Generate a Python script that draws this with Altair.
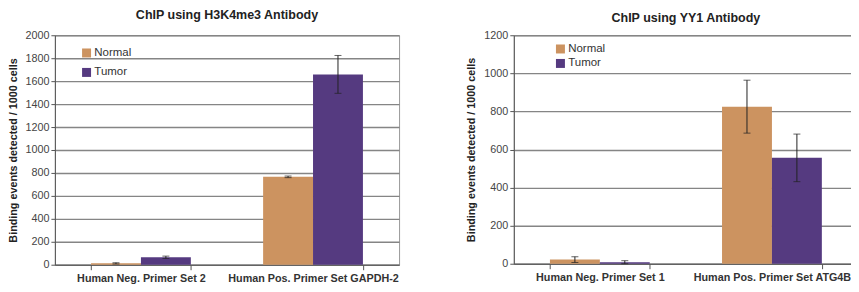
import altair as alt
import pandas as pd

series = ["Normal", "Tumor"]
colors = ["#CC9360", "#553A80"]

left_title = "ChIP using H3K4me3 Antibody"
left_cats = ["Human Neg. Primer Set 2", "Human Pos. Primer Set GAPDH-2"]
left_normal = [12, 766]
left_normal_err = [6, 7]
left_tumor = [65, 1659]
left_tumor_err = [10, 165]

right_title = "ChIP using YY1 Antibody"
right_cats = ["Human Neg. Primer Set 1", "Human Pos. Primer Set ATG4B"]
right_normal = [22, 825]
right_normal_err = [15, 139]
right_tumor = [8, 556]
right_tumor_err = [8, 125]

y_title = "Binding events detected / 1000 cells"
FONT = "Liberation Sans"


def make_df(cats, normal, nerr, tumor, terr):
    rows = []
    for i, c in enumerate(cats):
        rows.append({"cat": c, "series": "Normal", "value": normal[i], "err": nerr[i]})
        rows.append({"cat": c, "series": "Tumor", "value": tumor[i], "err": terr[i]})
    return pd.DataFrame(rows)


def panel(df, cats, title, ymax, lx, ly, rowpad, toff, tpad, w, h):
    base = alt.Chart(df).transform_calculate(
        lo="max(0, datum.value - datum.err)", hi="datum.value + datum.err"
    ).encode(
        x=alt.X(
            "cat:N", sort=cats, title=None,
            scale=alt.Scale(paddingInner=0.42, paddingOuter=0.21),
            axis=alt.Axis(labelAngle=0, tickBand="extent", grid=False,
                          labelFontWeight="bold", labelFontSize=10.8, labelColor="#333",
                          labelFont=FONT, domainColor="#555", tickColor="#555",
                          tickSize=5, labelPadding=3, labelLimit=0),
        ),
        xOffset=alt.XOffset("series:N", sort=series),
    )
    yscale = alt.Scale(domain=[0, ymax], nice=False)
    yaxis = alt.Axis(values=list(range(0, ymax + 1, 200)), format="d", labelFont=FONT,
                     labelFontSize=10.8, labelColor="#444", tickSize=4,
                     tickColor="#555", domainColor="#555", gridColor="#858585",
                     gridWidth=1.4, titleFont=FONT, titleFontSize=10.8,
                     titleFontWeight="bold", titleColor="#222", titlePadding=tpad,
                     labelPadding=2, labelOverlap=False)
    bars = base.mark_bar().encode(
        y=alt.Y("value:Q", scale=yscale, title=y_title, axis=yaxis),
        color=alt.Color("series:N", scale=alt.Scale(domain=series, range=colors),
                        legend=alt.Legend(orient="none", legendX=lx, legendY=ly, title=None,
                                          symbolType="square", symbolSize=81,
                                          symbolStrokeWidth=0, labelFont=FONT,
                                          labelFontSize=11.5, labelColor="#333",
                                          rowPadding=rowpad, padding=0, labelOffset=2)),
    )
    rule = base.mark_rule(color="#222", strokeWidth=1).encode(
        y=alt.Y("lo:Q", scale=yscale, title=y_title, axis=yaxis), y2="hi:Q")
    cap_lo = base.mark_tick(color="#222", thickness=1, size=7).encode(
        y=alt.Y("lo:Q", scale=yscale, title=y_title, axis=yaxis))
    cap_hi = base.mark_tick(color="#222", thickness=1, size=7).encode(
        y=alt.Y("hi:Q", scale=yscale, title=y_title, axis=yaxis))
    return alt.layer(bars, rule, cap_lo, cap_hi).properties(
        width=w, height=h,
        title=alt.Title(title, offset=toff, font=FONT, fontSize=12.5,
                        fontWeight="bold", color="#222"),
    )


left = panel(make_df(left_cats, left_normal, left_normal_err, left_tumor, left_tumor_err),
             left_cats, left_title, 2000, 26, 12, 6.5, 8, 6, 345, 230)
right = panel(make_df(right_cats, right_normal, right_normal_err, right_tumor, right_tumor_err),
              right_cats, right_title, 1200, 41, 8, 1.5, 5, 7, 345, 229)

chart = alt.hconcat(left, right, spacing=65).resolve_scale(
    y="independent", color="independent", x="independent"
).properties(
    padding={"left": -1, "top": 0, "right": -8, "bottom": 0}
).configure_view(stroke="#999", strokeWidth=1)

chart.save("out.html", embed_options={"renderer": "svg", "actions": False})
